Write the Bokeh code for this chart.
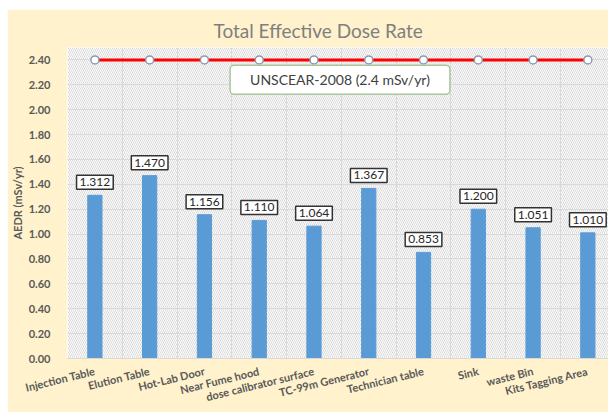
from bokeh.plotting import figure
from bokeh.models import (ColumnDataSource, Label, Range1d, FixedTicker,
                          BoxAnnotation, NumeralTickFormatter)
from bokeh.embed import file_html
from bokeh.resources import INLINE

categories = ["Injection Table", "Elution Table", "Hot-Lab Door", "Near Fume hood",
              "dose calibrator surface", "TC-99m Generator", "Technician table",
              "Sink", "waste Bin", "Kits Tagging Area"]
aedr = [1.312, 1.470, 1.156, 1.110, 1.064, 1.367, 0.853, 1.200, 1.051, 1.010]
unscear = [2.4, 2.4, 2.4, 2.4, 2.4, 2.4, 2.4, 2.4, 2.4, 2.4]
y_ticks = [0.00, 0.20, 0.40, 0.60, 0.80, 1.00, 1.20, 1.40, 1.60, 1.80, 2.00, 2.20, 2.40]
ref_label = "UNSCEAR-2008 (2.4 mSv/yr)"

xs = list(range(len(categories)))
src = ColumnDataSource(dict(x=xs, aedr=aedr, unscear=unscear))

FONT = "Lato"
GRAY = "#595959"

x_start, x_end = -0.5, 9.45
p = figure(frame_width=545, frame_height=311,
           x_range=Range1d(x_start, x_end), y_range=Range1d(0, 2.5),
           output_backend="svg", toolbar_location=None,
           min_border_left=56, min_border_right=0, min_border_top=38, min_border_bottom=52,
           border_fill_color="#FFF2CC", background_fill_color="white",
           outline_line_color=None)
p.margin = (9, 0, 0, 7)

p.title.text = "Total Effective Dose Rate"
p.title.align = "left"
p.title.offset = 146
p.title.text_font = FONT
p.title.text_font_size = "19px"
p.title.text_font_style = "normal"
p.title.text_color = "#7f7f7f"
p.title.standoff = 11

# hatched plot area
p.add_layout(BoxAnnotation(level="image", fill_color="white", fill_alpha=1,
                           hatch_pattern="\\", hatch_color="#c8c8c8", hatch_scale=4,
                           hatch_weight=0.7, line_color=None))

# axes
p.yaxis.ticker = FixedTicker(ticks=y_ticks)
p.yaxis.formatter = NumeralTickFormatter(format="0.00")
p.yaxis.axis_label = "AEDR (mSv/yr)"
p.yaxis.axis_label_text_font = FONT
p.yaxis.axis_label_text_font_size = "11px"
p.yaxis.axis_label_text_font_style = "bold"
p.yaxis.axis_label_text_color = GRAY
p.yaxis.axis_label_standoff = 2
p.yaxis.major_label_standoff = 11

p.xaxis.ticker = FixedTicker(ticks=xs)
p.xaxis.major_label_overrides = {i: c for i, c in zip(xs, categories)}
p.xaxis.major_label_orientation = 0.24
p.xaxis.major_label_standoff = 6

for ax in (p.xaxis[0], p.yaxis[0]):
    ax.major_tick_line_color = None
    ax.minor_tick_line_color = None
    ax.major_label_text_font = FONT
    ax.major_label_text_font_size = "11px"
    ax.major_label_text_font_style = "bold"
    ax.major_label_text_color = GRAY
p.yaxis.axis_line_color = None
p.xaxis.axis_line_color = "#d9d9d9"

p.xgrid.ticker = FixedTicker(ticks=[i - 0.5 for i in range(len(categories) + 1)])
p.xgrid.grid_line_color = "#d9d9d9"
p.ygrid.grid_line_color = "#d9d9d9"

# bars
p.vbar(x="x", top="aedr", width=0.26, color="#5B9BD5", source=src)

# reference line
p.line(x="x", y="unscear", line_color="#FF0000", line_width=3, source=src)
p.scatter(x="x", y="unscear", size=8, fill_color="white", line_color="#8e9aaf",
          line_width=1.5, source=src)

# data labels
for x, v in zip(xs, aedr):
    p.add_layout(Label(x=x, y=v, text=f"{v:.3f}", y_offset=6,
                       text_align="center", text_baseline="bottom",
                       text_font=FONT, text_font_size="12px", text_color="#262626",
                       background_fill_color="white", border_line_color="#333333",
                       border_line_width=1.5, padding=3))

p.add_layout(Label(x=(x_start + x_end) / 2, y=2.24, text=ref_label,
                   text_align="center", text_baseline="middle",
                   text_font=FONT, text_font_size="14px", text_color="#404040",
                   background_fill_color="white", border_line_color="#a9c79b",
                   border_line_width=1.5, border_radius=4, padding=(20, 6)))

open("out.html", "w").write(file_html(p, INLINE))
